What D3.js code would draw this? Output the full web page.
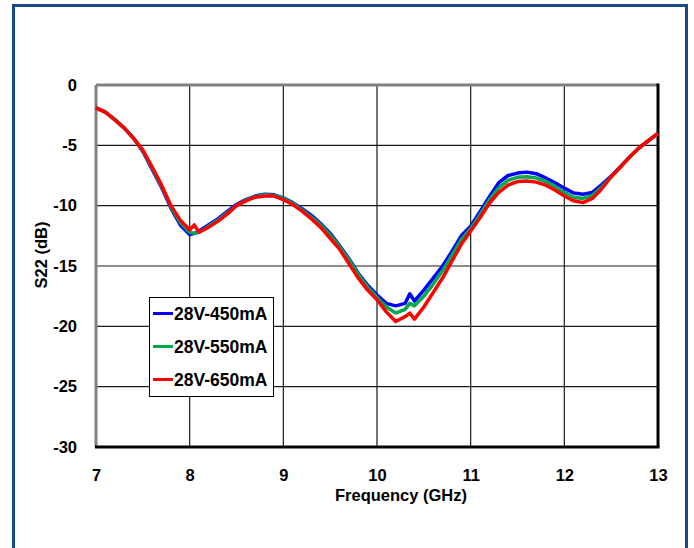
<html>
<head>
<script src="https://d3js.org/d3.v7.min.js"></script>
<style>
  body { margin: 0; background: #fff; }
  text { font-family: 'Liberation Sans', Arial, sans-serif; font-weight: bold; fill: #000; }
  .grid line { stroke: #1a1a1a; stroke-width: 1.2px; }
  .series { fill: none; stroke-width: 3.5px; stroke-linejoin: round; }
</style>
</head>
<body>
<svg id="chart" width="694" height="548"></svg>
<script>
// frequency points (GHz)
const freq = [7.0,7.1,7.2,7.3,7.4,7.5,7.6,7.7,7.8,7.9,8.0,8.05,8.1,8.2,8.3,8.4,8.5,8.6,8.7,8.8,8.9,
              9.0,9.1,9.2,9.3,9.4,9.5,9.6,9.7,9.8,9.9,10.0,10.1,10.2,10.3,10.35,10.4,10.5,10.6,10.7,10.8,10.9,
              11.0,11.1,11.2,11.3,11.4,11.5,11.6,11.7,11.8,11.9,12.0,12.1,12.2,12.3,12.4,12.5,12.6,12.7,12.8,12.9,13.0];

const s22_450 = [-1.9,-2.25,-2.85,-3.55,-4.4,-5.5,-7.0,-8.5,-10.2,-11.6,-12.4,-12.3,-12.1,-11.6,-11.1,-10.5,-9.9,-9.5,-9.2,-9.05,-9.1,
                 -9.35,-9.75,-10.25,-10.8,-11.5,-12.3,-13.3,-14.4,-15.6,-16.6,-17.4,-18.1,-18.3,-18.1,-17.3,-17.9,-17.0,-16.0,-15.0,-13.8,-12.5,
                 -11.7,-10.5,-9.25,-8.1,-7.5,-7.3,-7.22,-7.35,-7.7,-8.1,-8.55,-8.95,-9.05,-8.9,-8.25,-7.55,-6.75,-5.95,-5.2,-4.6,-4.0];

const s22_550 = [-1.9,-2.25,-2.85,-3.55,-4.4,-5.45,-6.9,-8.4,-10.1,-11.4,-12.2,-12.3,-12.2,-11.7,-11.2,-10.6,-10.0,-9.55,-9.25,-9.1,-9.15,
                 -9.4,-9.8,-10.35,-10.95,-11.6,-12.45,-13.4,-14.5,-15.7,-16.75,-17.6,-18.4,-18.9,-18.6,-18.1,-18.3,-17.5,-16.5,-15.4,-14.1,-12.8,
                 -11.9,-10.75,-9.5,-8.5,-7.9,-7.65,-7.6,-7.7,-8.0,-8.4,-8.9,-9.3,-9.4,-9.15,-8.45,-7.6,-6.78,-5.95,-5.2,-4.6,-4.0];

const s22_650 = [-1.9,-2.25,-2.9,-3.55,-4.4,-5.4,-6.8,-8.3,-10.0,-11.2,-12.0,-11.6,-12.2,-11.8,-11.3,-10.7,-10.0,-9.6,-9.3,-9.2,-9.2,
                 -9.5,-9.9,-10.45,-11.1,-11.8,-12.7,-13.6,-14.8,-16.0,-17.0,-17.8,-18.8,-19.6,-19.2,-18.9,-19.4,-18.4,-17.2,-16.0,-14.6,-13.2,
                 -12.1,-11.0,-9.8,-8.9,-8.3,-8.0,-7.95,-8.05,-8.3,-8.7,-9.2,-9.6,-9.75,-9.4,-8.6,-7.6,-6.8,-5.95,-5.2,-4.6,-4.0];

const seriesNames = ["28V-450mA", "28V-550mA", "28V-650mA"];
const seriesColors = ["#0000ff", "#00a850", "#ff0000"];
const xTicks = [7, 8, 9, 10, 11, 12, 13];
const yTicks = [0, -5, -10, -15, -20, -25, -30];

const svg = d3.select("#chart");

// outer blue frame
svg.append("rect")
   .attr("x", 13.5).attr("y", 5.5)
   .attr("width", 673).attr("height", 570)
   .attr("fill", "#fff")
   .attr("stroke", "#174a8b")
   .attr("stroke-width", 3);

const x = d3.scaleLinear().domain([7, 13]).range([96, 658]);
const y = d3.scaleLinear().domain([-30, 0]).range([447, 85]);

// grid
const grid = svg.append("g").attr("class", "grid");
grid.selectAll("line.v").data(xTicks.slice(1, -1)).join("line")
    .attr("class", "v")
    .attr("x1", d => x(d)).attr("x2", d => x(d))
    .attr("y1", y(0)).attr("y2", y(-30));
grid.selectAll("line.h").data(yTicks.slice(1, -1)).join("line")
    .attr("class", "h")
    .attr("x1", x(7)).attr("x2", x(13))
    .attr("y1", d => y(d)).attr("y2", d => y(d));

// plot frame: grey top/left, black bottom/right
svg.append("line").attr("x1", x(7)).attr("x2", x(13)).attr("y1", y(0)).attr("y2", y(0))
   .attr("stroke", "#808080").attr("stroke-width", 3);
svg.append("line").attr("x1", x(7)).attr("x2", x(7)).attr("y1", y(0)).attr("y2", y(-30))
   .attr("stroke", "#808080").attr("stroke-width", 3);
svg.append("line").attr("x1", x(7) - 1).attr("x2", x(13) + 1.5).attr("y1", y(-30)).attr("y2", y(-30))
   .attr("stroke", "#000").attr("stroke-width", 3);
svg.append("line").attr("x1", x(13)).attr("x2", x(13)).attr("y1", y(0) - 1.5).attr("y2", y(-30))
   .attr("stroke", "#000").attr("stroke-width", 3);

// axes (labels only)
const xAxis = svg.append("g")
   .attr("transform", `translate(0,${y(-30)})`)
   .call(d3.axisBottom(x).tickValues(xTicks).tickSize(0).tickPadding(22).tickFormat(d3.format("d")));
const yAxis = svg.append("g")
   .attr("transform", `translate(${x(7)},0)`)
   .call(d3.axisLeft(y).tickValues(yTicks).tickSize(0).tickPadding(19).tickFormat(d => d));
[xAxis, yAxis].forEach(a => {
  a.select(".domain").remove();
  a.selectAll("text").attr("font-size", 16.5).attr("font-family", "'Liberation Sans', Arial, sans-serif")
   .attr("font-weight", "bold").attr("fill", "#000");
});

// axis titles
svg.append("text")
   .attr("x", 401).attr("y", 500.5)
   .attr("text-anchor", "middle")
   .attr("font-size", 16.5)
   .text("Frequency (GHz)");
svg.append("text")
   .attr("transform", "translate(47,255) rotate(-90)")
   .attr("text-anchor", "middle")
   .attr("font-size", 16.5)
   .text("S22 (dB)");

// series
const allSeries = [s22_450, s22_550, s22_650];
const line = d3.line().x(d => x(d[0])).y(d => y(d[1]));
allSeries.forEach((vals, i) => {
  svg.append("path")
     .datum(freq.map((f, j) => [f, vals[j]]))
     .attr("class", "series")
     .attr("stroke", seriesColors[i])
     .attr("d", line);
});

// legend
const legend = svg.append("g").attr("transform", "translate(149,297)");
legend.append("rect")
      .attr("x", 0.5).attr("y", 0.5)
      .attr("width", 124).attr("height", 99)
      .attr("fill", "#fff")
      .attr("stroke", "#000")
      .attr("stroke-width", 1);
seriesNames.forEach((name, i) => {
  const ly = 16.5 + i * 33;
  legend.append("line")
        .attr("x1", 4).attr("x2", 24)
        .attr("y1", ly).attr("y2", ly)
        .attr("stroke", seriesColors[i])
        .attr("stroke-width", 3);
  legend.append("text")
        .attr("x", 25).attr("y", ly)
        .attr("dominant-baseline", "central")
        .attr("font-size", 17.5)
        .text(name);
});
</script>
</body>
</html>
